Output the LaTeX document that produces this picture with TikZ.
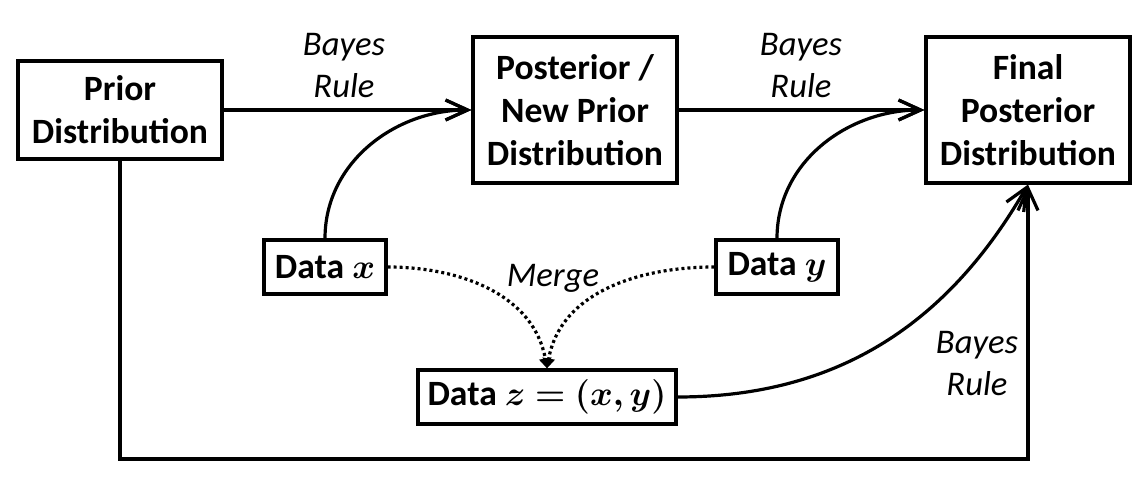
\documentclass[tikz,border=0pt]{standalone}
\usepackage{fontspec}
\setmainfont{Carlito}
\usepackage{amsmath}
\usepackage{bm}
\usetikzlibrary{arrows.meta}
\usetikzlibrary{positioning}

\begin{document}
\begin{tikzpicture}[x=0.5pt, y=-0.5pt,
	box/.style={rectangle, draw=black, line width=1.6pt, align=center, inner sep=0pt, font=\fontsize{17.8}{21.5}\selectfont\bfseries},
	lbl/.style={align=center, inner sep=0pt, font=\fontsize{17.3}{21}\selectfont\itshape},
	flow/.style={line width=1.6pt, -{Straight Barb[length=11pt, width=10pt]}},
	merge/.style={line width=1.6pt, dash pattern=on 1.5pt off 1.5pt, -{Triangle[length=5pt, width=6pt]}}]
	\useasboundingbox (0,0) rectangle (1147,485);
	
	\node[box, minimum width=102pt, minimum height=49pt] (prior) at (120,110) {Prior\\Distribution};
	\node[box, minimum width=102pt, minimum height=73pt] (post) at (575,110) {Posterior /\\New Prior\\Distribution};
	\node[box, minimum width=102pt, minimum height=73pt] (final) at (1028,110) {Final\\Posterior\\Distribution};
	\node[box, minimum width=61pt, minimum height=27pt] (dx) at (325,267) {Data $\boldsymbol{x}$};
	\node[box, minimum width=61pt, minimum height=27pt] (dy) at (777,267) {Data $\boldsymbol{y}$};
	\node[box, minimum width=129pt, minimum height=27pt] (dz) at (547,397) {Data $\boldsymbol{z=(x,y)}$};
	\coordinate (base) at (0,459);
	
	\node[lbl] (bayes1) at (344,66) {Bayes\\Rule};
	\node[lbl] (bayes2) at (801,66) {Bayes\\Rule};
	\node[lbl] (bayes3) at (977,364) {Bayes\\Rule};
	\node[lbl] (mergelbl) at (553,278) {Merge};
	
	\draw[flow] (prior.east) -- (post.west);
	\draw[flow] (post.east) -- (final.west);
	\draw[flow] (dx.north) to[out=90, in=180] (post.west);
	\draw[flow] (dy.north) to[out=90, in=180] (final.west);
	\draw[merge] (dx.east) to[out=0, in=100] (dz.north);
	\draw[merge] (dy.west) to[out=180, in=80] (dz.north);
	\draw[flow] (dz.east) to[out=0, in=-120] (final.south);
	\draw[flow] (prior.south) -- (prior.south |- base) -| (final.south);
	
\end{tikzpicture}
\end{document}
